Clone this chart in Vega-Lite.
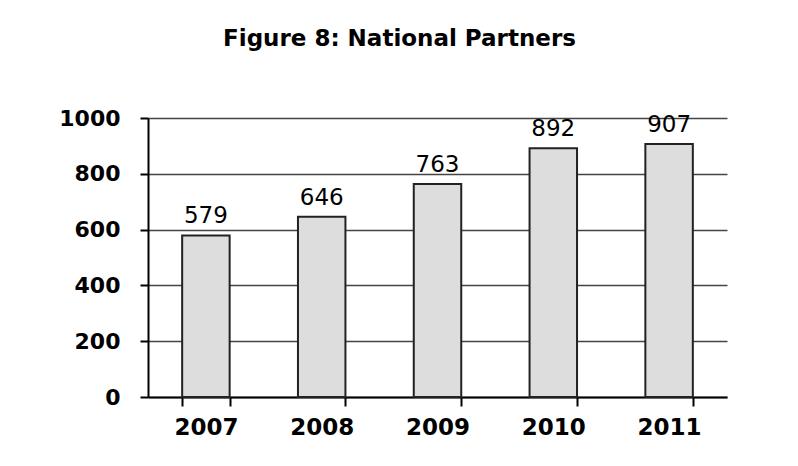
{
  "$schema": "https://vega.github.io/schema/vega-lite/v6.json",
  "width": 579,
  "height": 279,
  "autosize": {"type": "none"},
  "padding": {"left": 148, "top": 118, "right": 71, "bottom": 69},
  "background": "white",
  "title": {
    "text": "Figure 8: National Partners",
    "font": "DejaVu Sans",
    "fontWeight": "bold",
    "fontSize": 23,
    "color": "#000000",
    "anchor": "middle",
    "frame": "group",
    "baseline": "alphabetic",
    "offset": 38,
    "dx": -38
  },
  "config": {
    "view": {"stroke": null},
    "axis": {"labelFont": "DejaVu Sans", "labelFontWeight": "bold", "labelColor": "#000000", "ticks": true, "tickColor": "#000000", "tickWidth": 2},
    "axisBand": {"ticks": true, "tickBand": "extent"},
    "axisX": {"ticks": true, "tickSize": 9},
    "axisY": {"ticks": true, "tickSize": 8}
  },
  "data": {
    "values": [
      {"year": "2007", "partners": 579},
      {"year": "2008", "partners": 646},
      {"year": "2009", "partners": 763},
      {"year": "2010", "partners": 892},
      {"year": "2011", "partners": 907}
    ]
  },
  "encoding": {
    "x": {
      "field": "year",
      "type": "nominal",
      "scale": {"paddingInner": 0.59, "paddingOuter": 0.295},
      "axis": {
        "title": null,
        "labelAngle": 0,
        "labelFontSize": 23,
        "labelPadding": 10,
        "tickBand": "extent",
        "ticks": true,
        "tickSize": 9,
        "tickWidth": 2,
        "tickColor": "#000000",
        "domainColor": "#000000",
        "domainWidth": 2,
        "grid": false
      }
    },
    "y": {
      "field": "partners",
      "type": "quantitative",
      "scale": {"domain": [0, 1000]},
      "axis": {
        "title": null,
        "values": [0, 200, 400, 600, 800, 1000],
        "format": "d",
        "labelFontSize": 22,
        "labelPadding": 20,
        "tickSize": 8,
        "tickWidth": 2,
        "tickColor": "#000000",
        "domainColor": "#000000",
        "domainWidth": 2,
        "grid": true,
        "gridColor": "#444444",
        "gridWidth": 1.5
      }
    }
  },
  "layer": [
    {
      "mark": {"type": "bar", "fill": "#dddddd", "stroke": "#222222", "strokeWidth": 2}
    },
    {
      "mark": {"type": "text", "font": "DejaVu Sans", "fontSize": 23, "color": "#000000", "baseline": "alphabetic", "dy": -12},
      "encoding": {"text": {"field": "partners", "type": "quantitative"}}
    }
  ]
}
